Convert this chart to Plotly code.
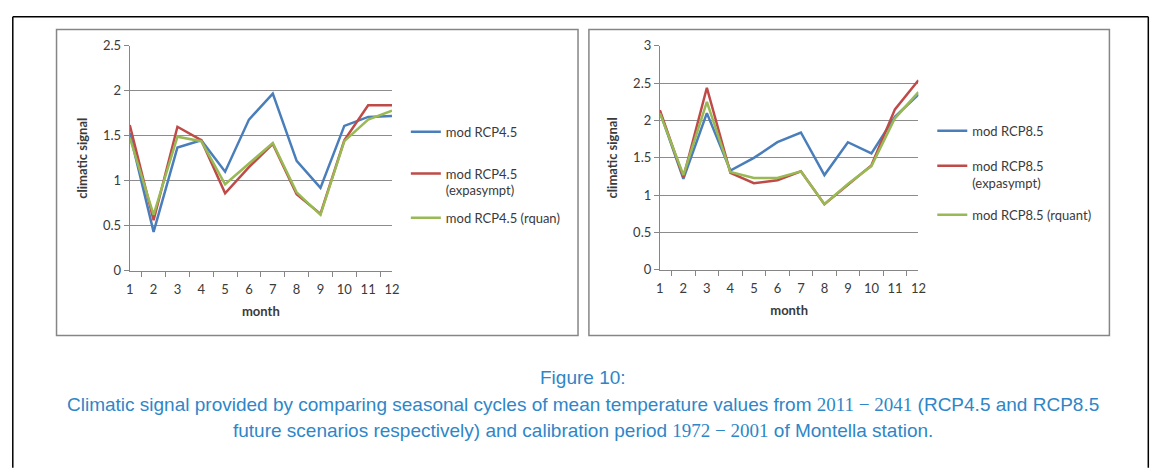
import plotly.graph_objects as go

# the page body has an 8px margin -> figure drawn at (8,8)
OX, OY = 8, 8
FW, FH = 1149, 460

months = [str(m) for m in range(1, 13)]

rcp45 = [1.53, 0.43, 1.37, 1.45, 1.10, 1.68, 1.97, 1.22, 0.92, 1.61, 1.71, 1.72]
rcp45_exp = [1.62, 0.56, 1.60, 1.45, 0.86, 1.15, 1.41, 0.85, 0.63, 1.45, 1.84, 1.84]
rcp45_rq = [1.48, 0.62, 1.49, 1.44, 0.96, 1.19, 1.42, 0.87, 0.62, 1.44, 1.68, 1.78]

rcp85 = [2.12, 1.22, 2.10, 1.33, 1.50, 1.71, 1.84, 1.27, 1.71, 1.56, 2.05, 2.35]
rcp85_exp = [2.14, 1.24, 2.44, 1.30, 1.16, 1.20, 1.32, 0.88, 1.14, 1.40, 2.15, 2.54]
rcp85_rq = [2.10, 1.27, 2.25, 1.31, 1.23, 1.23, 1.32, 0.88, 1.15, 1.39, 2.03, 2.38]

names45 = ["mod RCP4.5", "mod RCP4.5<br>(expasympt)", "mod RCP4.5 (rquan)"]
names85 = ["mod RCP8.5", "mod RCP8.5<br>(expasympt)", "mod RCP8.5 (rquant)"]

colors = ["#4A7EBB", "#BE4B48", "#98B954"]

SERIF = "<span style=\"font-family:'Liberation Serif'\">%s</span>"
caption = [
    "Figure 10:",
    "Climatic signal provided by comparing seasonal cycles of mean temperature values from "
    + SERIF % "2011 \u2212 2041" + " (RCP4.5 and RCP8.5",
    "future scenarios respectively) and calibration period "
    + SERIF % "1972 \u2212 2001" + " of Montella station.",
]


def px(x):
    return (x - OX) / FW


def py(y):
    return 1 - (y - OY) / FH


FONT = "Lato"
TXT = "#3a3a3a"

fig = go.Figure()

series45 = [rcp45, rcp45_exp, rcp45_rq]
series85 = [rcp85, rcp85_exp, rcp85_rq]

legend_ids = ["legend", "legend2", "legend3", "legend4", "legend5", "legend6"]

for i, (vals, nm) in enumerate(zip(series45, names45)):
    fig.add_trace(go.Scatter(x=months, y=vals, mode="lines", name=nm,
                             line=dict(color=colors[i], width=2.5),
                             xaxis="x", yaxis="y", legend=legend_ids[i]))
for i, (vals, nm) in enumerate(zip(series85, names85)):
    fig.add_trace(go.Scatter(x=months, y=vals, mode="lines", name=nm,
                             line=dict(color=colors[i], width=2.5),
                             xaxis="x2", yaxis="y2", legend=legend_ids[3 + i]))

axis_common = dict(
    showline=True, linecolor="#868686", linewidth=1,
    ticks="outside", ticklen=5, tickcolor="#868686",
    tickfont=dict(family=FONT, size=13, color=TXT),
    fixedrange=True,
)

xaxis_kw = dict(axis_common, type="category", tickson="boundaries", showgrid=False, tickangle=0,
                ticklabelstandoff=7,
                title=dict(text="<b>month</b>", font=dict(family=FONT, size=13, color=TXT), standoff=10))
yaxis_kw = dict(axis_common, showgrid=True, gridcolor="#8c8c8c", gridwidth=1, zeroline=False,
                title=dict(text="<b>climatic signal</b>", font=dict(family=FONT, size=13, color=TXT), standoff=12))

fig.update_layout(
    width=FW, height=FH,
    margin=dict(l=0, r=0, t=0, b=0),
    paper_bgcolor="white", plot_bgcolor="white",
    showlegend=True,
    xaxis=dict(xaxis_kw, domain=[px(127), px(392)], anchor="y"),
    yaxis=dict(yaxis_kw, domain=[py(271.7), py(39)], range=[0, 2.5], dtick=0.5, anchor="x"),
    xaxis2=dict(xaxis_kw, domain=[px(662.7), px(924)], anchor="y2"),
    yaxis2=dict(yaxis_kw, domain=[py(271), py(39)], range=[0, 3], dtick=0.5, anchor="x2"),
)

# legends
leg_font = dict(family=FONT, size=13, color=TXT)
leg_pos = [(406, 128), (406, 180), (406, 217), (938, 127), (938, 172), (938, 214)]
for lid, (lx, ly) in zip(legend_ids, leg_pos):
    fig.update_layout({lid: dict(x=px(lx), y=py(ly), xanchor="left", yanchor="middle",
                                 font=leg_font, bgcolor="rgba(0,0,0,0)", valign="top",
                                 itemwidth=30, borderwidth=0)})

# frames
shapes = [
    dict(type="line", xref="paper", yref="paper", x0=px(8.8), x1=px(8.8), y0=py(8.8), y1=py(476),
         line=dict(color="black", width=1.5)),
    dict(type="line", xref="paper", yref="paper", x0=px(8.8), x1=px(1156.3), y0=py(8.8), y1=py(8.8),
         line=dict(color="black", width=1.5)),
    dict(type="line", xref="paper", yref="paper", x0=px(1156.3), x1=px(1156.3), y0=py(8.8), y1=py(476),
         line=dict(color="black", width=1.5)),
    dict(type="rect", xref="paper", yref="paper", x0=px(53), x1=px(580), y0=py(339), y1=py(22),
         line=dict(color="#868686", width=1.5)),
    dict(type="rect", xref="paper", yref="paper", x0=px(591), x1=px(1117), y0=py(339), y1=py(22),
         line=dict(color="#868686", width=1.5)),
]
fig.update_layout(shapes=shapes)

cap_font = dict(family="Liberation Sans", size=19, color="#2e86c8")
for txt, yc in zip(caption, [383, 410, 437]):
    fig.add_annotation(text=txt, x=px(585), y=py(yc), xref="paper", yref="paper",
                       xanchor="center", yanchor="middle", showarrow=False, font=cap_font)

fig.write_html("out.html")
